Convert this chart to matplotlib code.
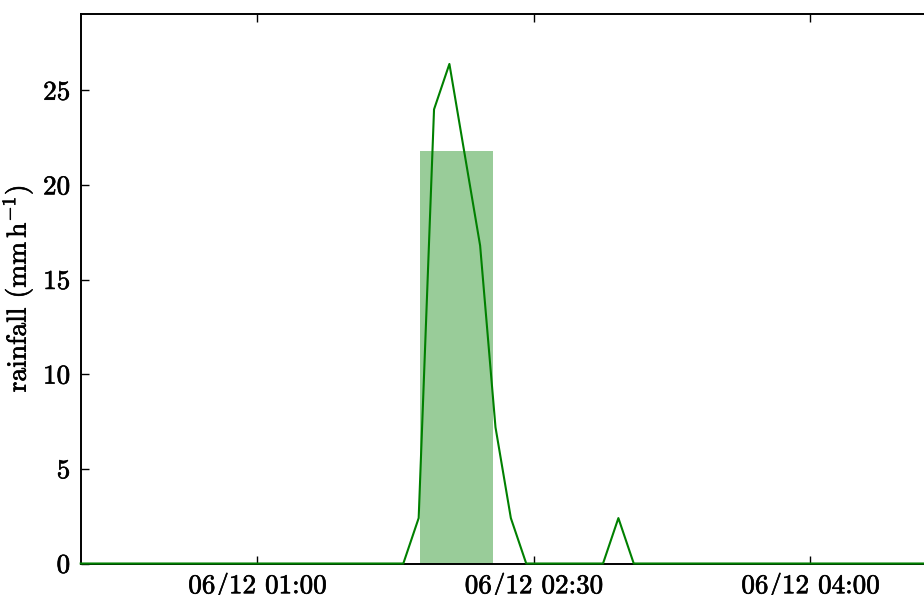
import matplotlib
matplotlib.use("Agg")
import matplotlib.pyplot as plt
import matplotlib.dates as mdates
import matplotlib.patheffects as pe
import pandas as pd

plt.rcParams['font.family'] = ['cmr10', 'DejaVu Serif']
plt.rcParams['mathtext.fontset'] = 'cm'
plt.rcParams['axes.formatter.use_mathtext'] = True

# 5-minute rainfall-rate samples (mm/h), starting 00:02:30
start_time = "2015-06-12 00:02:30"
rain_rate = [
    0, 0, 0, 0, 0, 0, 0, 0, 0, 0,
    0, 0, 0, 0, 0, 0, 0, 0, 0, 0,
    0, 0, 2.4, 24.0, 26.4, 21.6, 16.8, 7.2, 2.4, 0,
    0, 0, 0, 0, 0, 2.4, 0, 0, 0, 0,
    0, 0, 0, 0, 0, 0, 0, 0, 0, 0,
    0, 0, 0, 0, 0, 0, 0,
]
# averaged event bar
bar_start = "2015-06-12 01:53:00"
bar_minutes = 23.7
bar_value = 21.8

tick_times = ["2015-06-12 01:00", "2015-06-12 02:30", "2015-06-12 04:00"]
yticks = [0, 5, 10, 15, 20, 25]

times = pd.date_range(start_time, periods=len(rain_rate), freq="5min")

fig = plt.figure(figsize=(9.24, 5.95), dpi=100)
ax = fig.add_axes([80.7 / 924, (595 - 563.5) / 595, (941 - 80.7) / 924, (563.5 - 14) / 595])

ax.bar(mdates.date2num(pd.Timestamp(bar_start)), bar_value,
       width=bar_minutes / 1440.0, align="edge", color="g", alpha=0.4, linewidth=0, zorder=1)
ax.plot(mdates.date2num(times), rain_rate, color="g", lw=1.5, zorder=3, clip_on=False)

ax.set_xlim(mdates.date2num(times[0]), mdates.date2num(times[-1]))
ax.set_ylim(0, 29.04)
ax.set_yticks(yticks)
ax.set_xticks(mdates.date2num(pd.to_datetime(tick_times)))
ax.xaxis.set_major_formatter(mdates.DateFormatter("%m/%d %H:%M"))

for s in ax.spines.values():
    s.set_linewidth(1.4)
ax.tick_params(direction="in", length=6, width=1.0, top=True, right=True,
               labelsize=19.5, pad=7)
ylab = ax.set_ylabel(r"rainfall (mm$\,$h$^{-1}$)", fontsize=19.8, labelpad=5)

stroke = [pe.withStroke(linewidth=0.45, foreground="black")]
ylab.set_path_effects(stroke)
for lab in ax.get_xticklabels() + ax.get_yticklabels():
    lab.set_path_effects(stroke)

fig.savefig("out.png", dpi=100)
